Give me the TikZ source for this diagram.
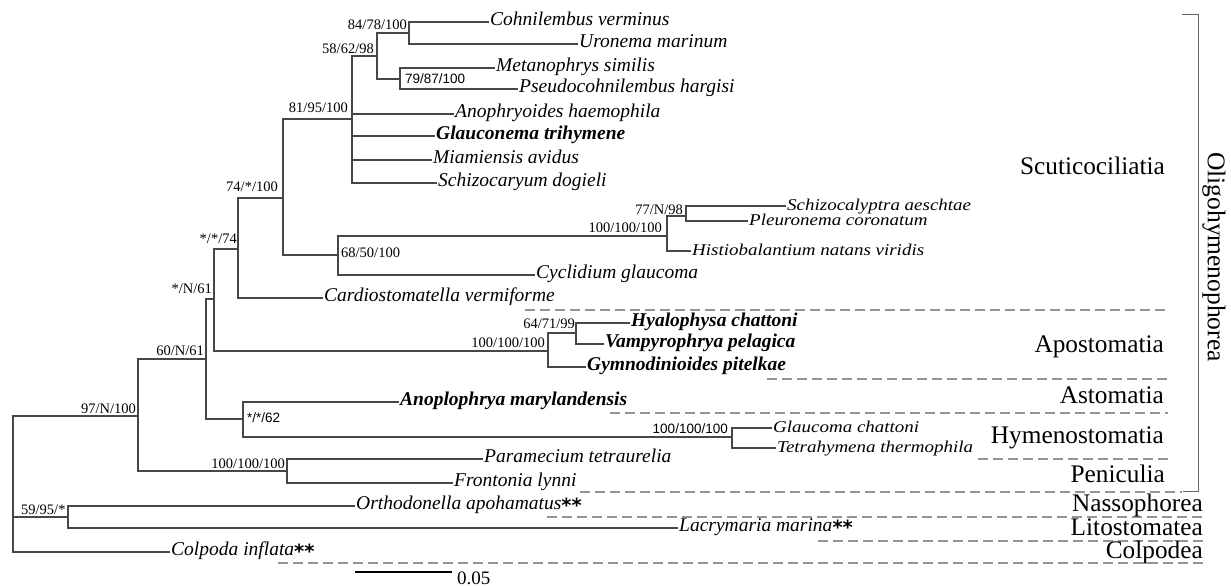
\documentclass[tikz,border=0pt]{standalone}
\usepackage{fontspec}
\setmainfont{Liberation Serif}
\setsansfont{Liberation Sans}
\newfontfamily\wideserif[FakeStretch=1.15]{Liberation Serif}
\newfontfamily\astfont{DejaVu Sans}
\newcommand{\twoast}{{\upshape\astfont\bfseries\raisebox{-0.12em}{**}}}
\begin{document}
\begin{tikzpicture}[x=1pt,y=-1pt,
  br/.style={draw=black!72, line width=1.2pt, line cap=rect},
  taxon/.style={font=\fontsize{19.5}{19.5}\selectfont\itshape, anchor=west, inner xsep=2pt, inner ysep=0pt, text height=0.76em, text depth=0em},
  btaxon/.style={taxon, font=\fontsize{19.5}{19.5}\selectfont\itshape\bfseries},
  staxon/.style={taxon, font=\fontsize{16.5}{16.5}\selectfont\wideserif\itshape, text height=0.82em},
  sup/.style={font=\fontsize{14.5}{14.5}\selectfont, inner sep=0pt, text height=0.7em, text depth=0pt},
  ssup/.style={font=\fontsize{13.5}{13.5}\selectfont\sffamily, inner sep=0pt, text height=0.7em, text depth=0pt},
  grp/.style={font=\fontsize{25.3}{25.3}\selectfont, anchor=base east, inner sep=0pt},
  sepline/.style={draw=black!42, line width=1.1pt, dash pattern=on 10pt off 5pt}
]
\path[use as bounding box] (0,0) rectangle (1231,586);

% internal nodes
\coordinate (root) at (13,416);
\coordinate (n97) at (138,416);
\coordinate (n60) at (206,359);
\coordinate (nN61) at (214,299);
\coordinate (n74b) at (238,249);
\coordinate (n74) at (283,198);
\coordinate (n81) at (352,119);
\coordinate (n58) at (377,56);
\coordinate (n84) at (409,33);
\coordinate (n79) at (400,79);
\coordinate (n68) at (338,255);
\coordinate (nS) at (667,236);
\coordinate (n77) at (686,216);
\coordinate (nApo) at (548,351);
\coordinate (n64) at (576,333);
\coordinate (n62) at (243,419);
\coordinate (nHym) at (732,437);
\coordinate (nPen) at (287,471);
\coordinate (n59) at (68,517);

% leaves
\node[taxon] (cohn) at (488,22) {Cohnilembus verminus};
\node[taxon] (uron) at (577,44) {Uronema marinum};
\node[taxon] (meta) at (494,68) {Metanophrys similis};
\node[taxon] (pseu) at (517,89) {Pseudocohnilembus hargisi};
\node[taxon] (anop) at (453,114) {Anophryoides haemophila};
\node[btaxon] (glau) at (434,136) {Glauconema trihymene};
\node[taxon] (miam) at (431,160) {Miamiensis avidus};
\node[taxon] (schc) at (436,183) {Schizocaryum dogieli};
\node[staxon] (schl) at (785,206) {Schizocalyptra aeschtae};
\node[staxon] (pleu) at (747,221) {Pleuronema coronatum};
\node[staxon] (hist) at (690,251) {Histiobalantium natans viridis};
\node[taxon] (cycl) at (534,275) {Cyclidium glaucoma};
\node[taxon] (card) at (322,298) {Cardiostomatella vermiforme};
\node[btaxon] (hyal) at (629,323) {Hyalophysa chattoni};
\node[btaxon] (vamp) at (603,344) {Vampyrophrya pelagica};
\node[btaxon] (gymn) at (585,367) {Gymnodinioides pitelkae};
\node[btaxon] (anpl) at (398,402) {Anoplophrya marylandensis};
\node[staxon] (glch) at (771,428) {Glaucoma chattoni};
\node[staxon] (tetr) at (775,448) {Tetrahymena thermophila};
\node[taxon] (para) at (482,459) {Paramecium tetraurelia};
\node[taxon] (fron) at (452,483) {Frontonia lynni};
\node[taxon] (orth) at (354,506) {Orthodonella apohamatus\twoast};
\node[taxon] (lacr) at (677,528) {Lacrymaria marina\twoast};
\node[taxon] (colp) at (169,552) {Colpoda inflata\twoast};

% branches
\draw[br] (root) -- (n97);
\draw[br] (root) |- (n59);
\draw[br] (root) |- (colp.west);
\draw[br] (n97) |- (n60);
\draw[br] (n97) |- (nPen);
\draw[br] (n60) |- (nN61);
\draw[br] (n60) |- (n62);
\draw[br] (nN61) |- (n74b);
\draw[br] (nN61) |- (nApo);
\draw[br] (n74b) |- (n74);
\draw[br] (n74b) |- (card.west);
\draw[br] (n74) |- (n81);
\draw[br] (n74) |- (n68);
\draw[br] (n81) |- (n58);
\draw[br] (n81) |- (anop.west);
\draw[br] (n81) |- (glau.west);
\draw[br] (n81) |- (miam.west);
\draw[br] (n81) |- (schc.west);
\draw[br] (n58) |- (n84);
\draw[br] (n58) |- (n79);
\draw[br] (n84) |- (cohn.west);
\draw[br] (n84) |- (uron.west);
\draw[br] (n79) |- (meta.west);
\draw[br] (n79) |- (pseu.west);
\draw[br] (n68) |- (nS);
\draw[br] (n68) |- (cycl.west);
\draw[br] (nS) |- (n77);
\draw[br] (nS) |- (hist.west);
\draw[br] (n77) |- (schl.west);
\draw[br] (n77) |- (pleu.west);
\draw[br] (nApo) |- (n64);
\draw[br] (nApo) |- (gymn.west);
\draw[br] (n64) |- (hyal.west);
\draw[br] (n64) |- (vamp.west);
\draw[br] (n62) |- (anpl.west);
\draw[br] (n62) |- (nHym);
\draw[br] (nHym) |- (glch.west);
\draw[br] (nHym) |- (tetr.west);
\draw[br] (nPen) |- (para.west);
\draw[br] (nPen) |- (fron.west);
\draw[br] (n59) |- (orth.west);
\draw[br] (n59) |- (lacr.west);

% support values
\node[sup, anchor=east] (s84) at (407,26) {84/78/100};
\node[sup, anchor=east] (s58) at (374,50) {58/62/98};
\node[ssup, anchor=west] (s79) at (405,80) {79/87/100};
\node[sup, anchor=east] (s81) at (348,109) {81/95/100};
\node[sup, anchor=east] (s74) at (278,188) {74/*/100};
\node[sup, anchor=east] (s74b) at (237,240) {*/*/74};
\node[sup, anchor=east] (sN61) at (212,290) {*/N/61};
\node[sup, anchor=east] (s60) at (204,352) {60/N/61};
\node[sup, anchor=east] (s97) at (136,410) {97/N/100};
\node[sup, anchor=west] (s68) at (341,254) {68/50/100};
\node[sup, anchor=east] (sS) at (662,229) {100/100/100};
\node[sup, anchor=east] (s77) at (683,211) {77/N/98};
\node[sup, anchor=east] (s64) at (575,325) {64/71/99};
\node[sup, anchor=east] (sApo) at (545,344) {100/100/100};
\node[ssup, anchor=west] (s62) at (247,419) {*/*/62};
\node[ssup, anchor=east] (sHym) at (728,430) {100/100/100};
\node[sup, anchor=east] (sPen) at (285,465) {100/100/100};
\node[sup, anchor=west] (s59) at (21,511) {59/95/*};

% separators
\draw[sepline] (525,310) -- (1168,310);
\draw[sepline] (767,379) -- (1168,379);
\draw[sepline] (610,413) -- (1168,413);
\draw[sepline] (978,459) -- (1168,459);
\draw[sepline] (580,492) -- (1182,492);
\draw[sepline] (547,517) -- (1203,517);
\draw[sepline] (818,541) -- (1203,541);
\draw[sepline] (278,563) -- (1203,563);

% group names
\node[grp] (gScu) at (1165,174) {Scuticociliatia};
\node[grp] (gApo) at (1164,352) {Apostomatia};
\node[grp] (gAst) at (1164,403) {Astomatia};
\node[grp] (gHym) at (1164,443) {Hymenostomatia};
\node[grp] (gPen) at (1165,482) {Peniculia};
\node[grp] (gNas) at (1203,511) {Nassophorea};
\node[grp] (gLit) at (1203,535.5) {Litostomatea};
\node[grp] (gCol) at (1203,558.5) {Colpodea};

% bracket
\coordinate (bt) at (1198,15);
\coordinate (bb) at (1198,491);
\draw[draw=black!60, line width=1pt] (1182,15) -- (bt) -- (bb) -- (1183,491);
\node[font=\fontsize{25.5}{25.5}\selectfont, rotate=-90, inner sep=0pt] (oligo) at (1214,257) {Oligohymenophorea};

% scale bar
\coordinate (sb1) at (355,572);
\coordinate (sb2) at (452,572);
\draw[draw=black, line width=1.2pt] (sb1) -- (sb2);
\node[font=\fontsize{19}{19}\selectfont, anchor=west, inner sep=0pt] (sbl) at (457,578) {0.05};
\end{tikzpicture}
\end{document}
